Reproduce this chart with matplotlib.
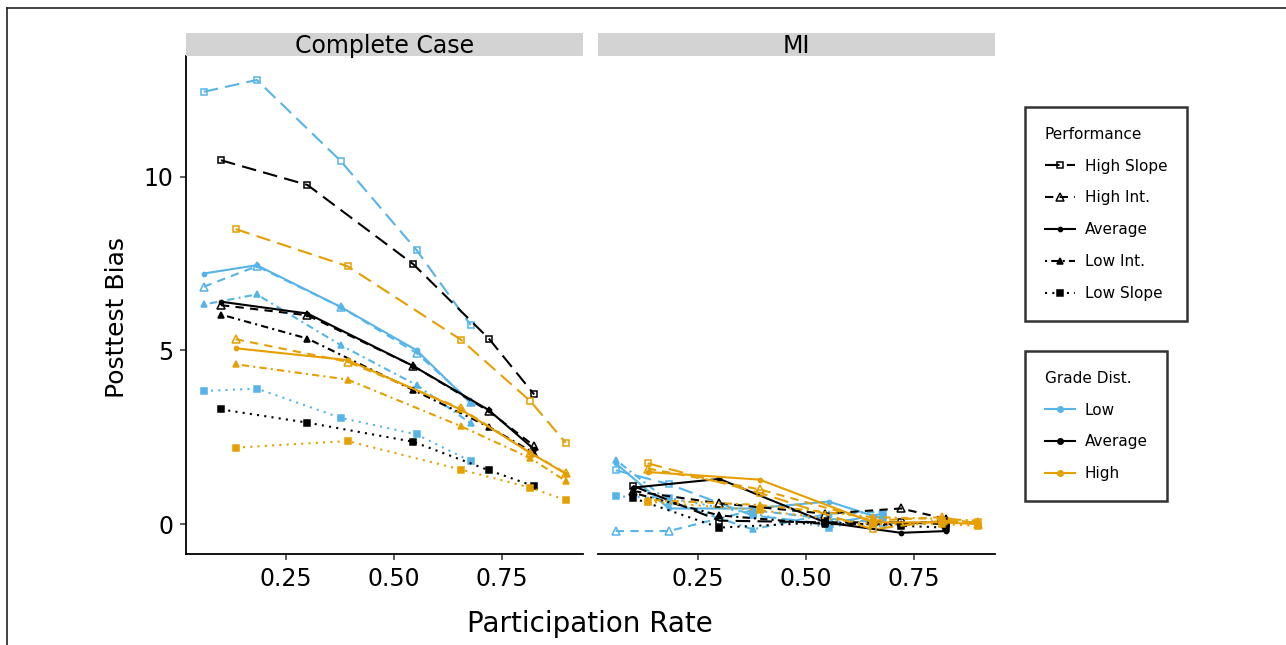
import numpy as np
import matplotlib
matplotlib.use('Agg')
import matplotlib.pyplot as plt
from matplotlib.lines import Line2D

plt.rcParams['font.family'] = ['DejaVu Sans']

# participation rates per grade distribution
x_low = [0.06, 0.183, 0.377, 0.553, 0.678]
x_avg = [0.10, 0.30, 0.545, 0.72, 0.825]
x_high = [0.134, 0.393, 0.655, 0.816, 0.898]

performance = ['High Slope', 'High Int.', 'Average', 'Low Int.', 'Low Slope']
grades = ['Low', 'Average', 'High']

# Complete Case, rows follow `performance`
cc_low = [[12.44, 12.78, 10.45, 7.88, 5.73],
          [6.83, 7.42, 6.25, 4.92, 3.52],
          [7.21, 7.45, 6.25, 5.00, 3.48],
          [6.32, 6.61, 5.15, 4.00, 2.90],
          [3.83, 3.90, 3.06, 2.58, 1.81]]
cc_avg = [[10.47, 9.76, 7.48, 5.34, 3.73],
          [6.30, 6.01, 4.55, 3.25, 2.25],
          [6.40, 6.06, 4.55, 3.28, 2.15],
          [6.03, 5.34, 3.86, 2.80, 2.04],
          [3.30, 2.92, 2.37, 1.55, 1.09]]
cc_high = [[8.49, 7.42, 5.31, 3.54, 2.34],
           [5.32, 4.67, 3.33, 2.05, 1.47],
           [5.06, 4.72, 3.30, 2.05, 1.45],
           [4.60, 4.16, 2.82, 1.90, 1.24],
           [2.20, 2.39, 1.57, 1.05, 0.69]]

# MI
mi_low = [[1.55, 1.15, 0.25, 0.00, 0.30],
          [-0.20, -0.20, 0.40, 0.15, 0.05],
          [1.75, 0.45, 0.45, 0.65, 0.15],
          [1.85, 0.65, -0.15, 0.30, 0.35],
          [0.80, 0.75, 0.30, -0.10, 0.20]]
mi_avg = [[1.10, 0.10, 0.05, 0.05, 0.00],
          [0.95, 0.60, 0.30, 0.45, 0.15],
          [1.05, 1.30, 0.05, -0.25, -0.20],
          [0.90, 0.25, 0.00, 0.00, 0.10],
          [0.75, -0.10, 0.05, -0.05, -0.10]]
mi_high = [[1.75, 0.90, -0.15, 0.10, 0.05],
           [1.60, 1.00, 0.10, 0.20, 0.00],
           [1.50, 1.28, 0.05, 0.05, 0.00],
           [0.70, 0.55, 0.20, 0.15, 0.10],
           [0.65, 0.40, 0.00, 0.00, -0.05]]

colors = {'Low': '#56B4E9', 'Average': '#000000', 'High': '#E69F00'}
# linestyle, marker, filled, markersize
styles = {
    'High Slope': ((0, (7, 3.5)), 's', False, 5),
    'High Int.': ((0, (4, 3)), '^', False, 5.5),
    'Average': ('-', 'o', True, 3),
    'Low Int.': ((0, (1, 2, 3.5, 2)), '^', True, 5),
    'Low Slope': ((0, (1, 2.5)), 's', True, 4.5),
}

W, H = 1286, 645
fig = plt.figure(figsize=(W / 100, H / 100), dpi=100)

def fx(px):
    return px / W

def fy(py):
    return 1 - py / H

bottom, top = fy(554), fy(56)
ax1 = fig.add_axes([fx(186), bottom, fx(397), top - bottom])
ax2 = fig.add_axes([fx(598), bottom, fx(397), top - bottom], sharey=ax1)


def draw_panel(ax, low, avg, high):
    for g, xs, vals in zip(grades, [x_low, x_avg, x_high], [low, avg, high]):
        for p, ys in zip(performance, vals):
            ls, mk, filled, ms = styles[p]
            c = colors[g]
            ax.plot(xs, ys, color=c, linestyle=ls, lw=1.5, marker=mk,
                    markersize=ms, markeredgewidth=1.1,
                    markerfacecolor=c if filled else 'none')
    ax.set_xlim(0.019, 0.938)
    ax.set_ylim(-0.86, 13.47)
    ax.set_xticks([0.25, 0.50, 0.75])
    ax.set_xticklabels(['0.25', '0.50', '0.75'])
    for s in ['top', 'right']:
        ax.spines[s].set_visible(False)
    ax.spines['bottom'].set_linewidth(1.3)
    ax.spines['left'].set_linewidth(1.3)
    ax.tick_params(labelsize=17, length=4, width=1.1, color='#333333', pad=5)


draw_panel(ax1, cc_low, cc_avg, cc_high)
draw_panel(ax2, mi_low, mi_avg, mi_high)
ax1.set_yticks([0, 5, 10])
ax2.spines['left'].set_visible(False)
ax2.tick_params(axis='y', left=False, labelleft=False)

# facet strips
for x0, label in [(186, 'Complete Case'), (598, 'MI')]:
    sax = fig.add_axes([fx(x0), fy(56), fx(397), fy(33) - fy(56)])
    sax.set_facecolor('#d3d3d3')
    sax.set_xticks([])
    sax.set_yticks([])
    for s in sax.spines.values():
        s.set_visible(False)
    sax.text(0.5, 0.45, label, ha='center', va='center', fontsize=17,
             transform=sax.transAxes)

fig.text(fx(590), fy(624), 'Participation Rate', ha='center', va='center', fontsize=20)
fig.text(fx(117), fy(317), 'Posttest Bias', ha='center', va='center',
         rotation=90, fontsize=18)

# legends
perf_handles = []
for p in performance:
    ls, mk, filled, ms = styles[p]
    perf_handles.append(Line2D([], [], color='black', linestyle=ls, lw=1.5, marker=mk,
                               markersize=ms, markeredgewidth=1.1,
                               markerfacecolor='black' if filled else 'none'))
grade_handles = [Line2D([], [], color=colors[g], lw=1.5, marker='o', markersize=4)
                 for g in grades]

leg_kw = dict(fontsize=11, title_fontsize=11, frameon=True, fancybox=False,
              edgecolor='black', handlelength=1.95, handletextpad=0.65,
              labelspacing=1.1, borderpad=1.3, borderaxespad=0,
              alignment='left', loc='upper left')
leg1 = fig.legend(perf_handles, performance, title='Performance',
                  bbox_to_anchor=(fx(1025), fy(107)), **leg_kw)
leg2 = fig.legend(grade_handles, grades, title='Grade Dist.',
                  bbox_to_anchor=(fx(1025), fy(351)), **leg_kw)
for leg in (leg1, leg2):
    leg.get_frame().set_linewidth(1.8)

# outer frame of the figure
fig.add_artist(Line2D([fx(7), 1], [fy(8), fy(8)], color='#222222', lw=1.2))
fig.add_artist(Line2D([fx(7), fx(7)], [0, fy(8)], color='#222222', lw=1.2))

fig.savefig('out.png', dpi=100)
